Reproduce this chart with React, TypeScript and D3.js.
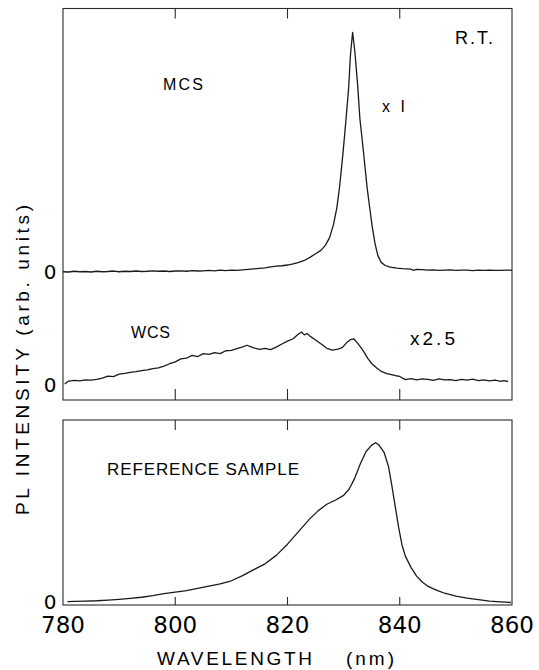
import React from "react";
import * as d3 from "d3";

// ---- data (wavelength nm, intensity arb. units) ----
const xTicks = [780, 800, 820, 840, 860];
const innerTicks = [800, 820, 840];

const mcsWavelength = [780, 781, 782, 783, 784, 785, 786, 787, 788, 789, 790, 791, 792, 793, 794, 795, 796, 797, 798, 799, 800, 801, 802, 803, 804, 805, 806, 807, 808, 809, 810, 811, 812, 813, 814, 815, 816, 817, 818, 819, 820, 821, 822, 823, 824, 825, 826, 826.8, 827.5, 828.2, 828.8, 829.3, 829.9, 830.4, 830.9, 831.2, 831.6, 832.0, 832.5, 832.9, 833.5, 834.2, 834.7, 835.1, 835.6, 836.1, 836.7, 837.4, 838.3, 839.5, 840.5, 842, 842.4, 843, 844, 845, 846, 847, 848, 849, 850, 851, 852, 853, 854, 855, 856, 857, 858, 859, 860];
const mcsIntensity = [0.3, 0.2, 0.5, 0.3, 0.4, 0.2, 0.5, 0.3, 0.4, 0.6, 0.3, 0.5, 0.4, 0.6, 0.4, 0.5, 0.7, 0.5, 0.6, 0.4, 0.6, 0.7, 0.5, 0.8, 0.6, 0.7, 0.9, 0.7, 1.0, 0.8, 1.0, 0.9, 1.1, 1.3, 1.5, 1.7, 1.9, 2.3, 2.6, 2.8, 3.1, 3.6, 4.2, 5.0, 6.3, 7.8, 9.3, 11.5, 14.5, 20, 27, 36, 50, 63, 77, 90, 100, 92, 78, 64, 51, 35, 26, 19, 12, 7, 4.2, 2.9, 2.2, 1.8, 1.6, 1.4, 0.9, 1.3, 1.2, 1.0, 1.1, 0.9, 1.0, 1.1, 0.9, 1.0, 1.0, 0.8, 1.0, 0.9, 1.0, 0.9, 0.9, 1.0, 0.9];

const wcsWavelength = [780.3, 781, 782, 783, 784, 785, 786, 787, 788, 789, 790, 791, 792, 793, 794, 795, 796, 797, 798, 799, 800, 801, 802, 803, 804, 805, 806, 807, 808, 809, 810, 811, 812, 812.8, 813.5, 814, 815, 816, 817, 818, 819, 820, 821, 821.8, 822.5, 823, 823.5, 824, 825, 826, 827, 828, 829, 829.8, 830.5, 831.2, 831.8, 832.4, 833, 833.7, 834.3, 835, 835.9, 836.8, 837.7, 838.5, 839.3, 840, 841, 842, 843, 844, 845, 846, 847, 848, 849, 850, 851, 852, 853, 854, 855, 856, 857, 858, 858.5, 859.3];
const wcsIntensity = [0.2, 1.4, 1.7, 1.5, 1.9, 1.8, 2.1, 2.6, 3.4, 3.2, 4.3, 4.6, 5.0, 5.3, 5.7, 6.0, 6.6, 6.9, 7.6, 8.6, 9.4, 10.6, 10.9, 12.1, 11.6, 12.8, 12.5, 13.2, 12.8, 14.0, 14.2, 14.9, 15.6, 16.3, 15.6, 15.2, 14.6, 15.0, 14.5, 15.5, 16.8, 18.0, 19.0, 20.7, 21.8, 20.6, 21.2, 20.1, 18.5, 16.8, 15.0, 14.3, 14.7, 15.4, 17.3, 18.6, 19.0, 17.4, 15.6, 13.2, 10.8, 8.7, 6.8, 5.3, 4.5, 4.1, 3.6, 3.3, 2.0, 2.4, 1.9, 2.3, 2.1, 1.7, 2.3, 1.9, 2.0, 1.6, 2.1, 1.8, 2.2, 1.6, 1.9, 1.5, 1.8, 1.3, 1.6, 1.2];

const refWavelength = [780.8, 782, 784, 786, 788, 790, 792, 794, 796, 798, 800, 801, 802, 804, 806, 808, 810, 812, 814, 816, 818, 820, 822, 824, 825.5, 827, 828.5, 830, 831, 832, 833, 834, 835, 835.7, 836.3, 837.2, 838, 838.6, 839.2, 839.8, 840.4, 841, 842, 843, 844, 845, 846, 847, 848, 849, 850, 852, 854, 856, 858, 859.8];
const refIntensity = [0.6, 0.7, 0.9, 1.1, 1.5, 2.0, 2.6, 3.3, 4.3, 5.6, 6.5, 7.0, 7.5, 8.8, 10.2, 11.7, 13.6, 16.8, 20.6, 24.2, 29.5, 36.5, 44.5, 52.5, 57.5, 61.5, 64, 67, 71, 78, 87, 94.5, 98.5, 100, 98.5, 94, 85, 73, 60, 47, 36, 29, 22, 16.5, 12.8, 10.2, 8.5, 7.1, 5.8, 4.9, 4.0, 2.8, 1.8, 0.9, 0.4, 0.0];

const wcsOffset = -46.6;

export default function App() {
  const X0 = 63, X1 = 512;
  const topY0 = 8.5, topY1 = 400;
  const botY0 = 420, botY1 = 605;

  const x = d3.scaleLinear().domain([780, 860]).range([X0, X1]);
  const yTop = d3.scaleLinear().domain([-53.1, 109.9]).range([topY1, topY0]);
  const yBot = d3.scaleLinear().domain([-1.56, 114.2]).range([botY1, botY0]);

  const line = (xs: number[], ys: number[], ys2: (v: number) => number, off = 0) =>
    d3.line<number>()
      .x((_, i) => x(xs[i]))
      .y((v) => ys2(v + off))
      .curve(d3.curveLinear)(ys) || "";

  const axisColor = "#2a2a2a";
  const lineColor = "#1a1a1a";
  const numFont = "'DejaVu Sans', sans-serif";
  const txtFont = "'Liberation Sans', Arial, sans-serif";

  return (
    <svg width={539} height={670} style={{ position: "absolute", left: 0, top: 0, background: "#fff" }}>
      <rect x={0} y={0} width={539} height={670} fill="#fff" />
      {/* top panel frame */}
      <rect x={X0} y={topY0} width={X1 - X0} height={topY1 - topY0} fill="none" stroke={axisColor} strokeWidth={1.1} />
      {innerTicks.map((t) => (
        <g key={"tt" + t}>
          <line x1={x(t)} x2={x(t)} y1={topY0} y2={topY0 + 10} stroke={axisColor} strokeWidth={1.1} />
          <line x1={x(t)} x2={x(t)} y1={topY1} y2={topY1 - 11} stroke={axisColor} strokeWidth={1.1} />
        </g>
      ))}
      {/* bottom panel frame */}
      <rect x={X0} y={botY0} width={X1 - X0} height={botY1 - botY0} fill="none" stroke={axisColor} strokeWidth={1.1} />
      {innerTicks.map((t) => (
        <g key={"bt" + t}>
          <line x1={x(t)} x2={x(t)} y1={botY0} y2={botY0 + 10} stroke={axisColor} strokeWidth={1.1} />
          <line x1={x(t)} x2={x(t)} y1={botY1} y2={botY1 - 8} stroke={axisColor} strokeWidth={1.1} />
        </g>
      ))}

      {/* curves */}
      <path d={line(mcsWavelength, mcsIntensity, yTop)} fill="none" stroke={lineColor} strokeWidth={1.3} strokeLinejoin="round" />
      <path d={line(wcsWavelength, wcsIntensity, yTop, wcsOffset)} fill="none" stroke={lineColor} strokeWidth={1.3} strokeLinejoin="round" />
      <path d={line(refWavelength, refIntensity, yBot)} fill="none" stroke={lineColor} strokeWidth={1.3} strokeLinejoin="round" />

      {/* zero labels */}
      <text x={50} y={yTop(0) + 7} textAnchor="middle" fontFamily={numFont} fontSize={20}>0</text>
      <text x={50} y={yTop(wcsOffset) + 8} textAnchor="middle" fontFamily={numFont} fontSize={20}>0</text>
      <text x={50} y={yBot(0) + 6} textAnchor="middle" fontFamily={numFont} fontSize={20}>0</text>

      {/* x tick labels */}
      {xTicks.map((t) => (
        <text key={"xl" + t} x={x(t)} y={633} textAnchor="middle" fontFamily={numFont} fontSize={23}>{t}</text>
      ))}

      {/* axis titles */}
      <text x={157} y={665} fontFamily={txtFont} fontSize={19} textLength={155} lengthAdjust="spacing">WAVELENGTH</text>
      <text x={346} y={665} fontFamily={txtFont} fontSize={19} textLength={48} lengthAdjust="spacing">(nm)</text>
      <text transform="translate(29,360) rotate(-90)" textAnchor="middle" fontFamily={txtFont} fontSize={19} textLength={310} lengthAdjust="spacing">PL INTENSITY (arb. units)</text>

      {/* annotations */}
      <text x={455} y={44} fontFamily={txtFont} fontSize={18} textLength={38} lengthAdjust="spacing">R.T.</text>
      <text x={163} y={90} fontFamily={txtFont} fontSize={16} textLength={40} lengthAdjust="spacing">MCS</text>
      <text x={382} y={112} fontFamily={txtFont} fontSize={16} textLength={23} lengthAdjust="spacing">x I</text>
      <text x={131} y={338} fontFamily={txtFont} fontSize={16} textLength={39} lengthAdjust="spacing">WCS</text>
      <text x={410} y={345} fontFamily={txtFont} fontSize={19} textLength={45} lengthAdjust="spacing">x2.5</text>
      <text x={107} y={475} fontFamily={txtFont} fontSize={17} textLength={192} lengthAdjust="spacing">REFERENCE SAMPLE</text>
    </svg>
  );
}
